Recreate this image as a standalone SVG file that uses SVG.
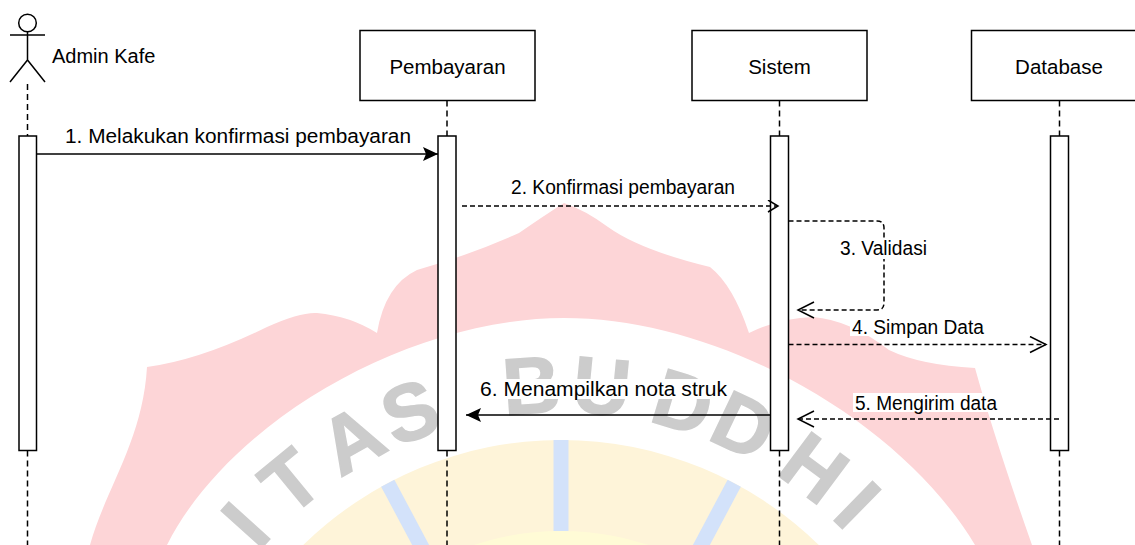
<svg xmlns="http://www.w3.org/2000/svg" width="1135" height="545" viewBox="0 0 1135 545">
<style>
.t{font-family:"Liberation Sans",Arial,Helvetica,sans-serif;font-size:20px;fill:#000}
.h{font-size:20.5px;text-anchor:middle}
.box{fill:#fff;stroke:#000;stroke-width:1.5}
.act{fill:#fff;stroke:#000;stroke-width:1.5}
.life{fill:none;stroke:#000;stroke-width:1.5;stroke-dasharray:6 4}
.solid{fill:none;stroke:#000;stroke-width:1.5}
.dash{fill:none;stroke:#000;stroke-width:1.5;stroke-dasharray:5 3}
.bg{fill:#fff}
.wm{font-family:"Liberation Sans",Arial,sans-serif;font-weight:bold;font-size:80px;fill:#cccccc;stroke:#cccccc;stroke-width:1.5;text-anchor:middle}
</style>
<defs>
<marker id="fill" markerUnits="userSpaceOnUse" markerWidth="16" markerHeight="16" refX="15" refY="7" orient="auto">
<path d="M0,0 L15,7 L0,14 L3,7 Z" fill="#000" stroke="none"/>
</marker>
<marker id="open" markerUnits="userSpaceOnUse" markerWidth="20" markerHeight="20" refX="17" refY="8.5" orient="auto">
<path d="M1,0.5 L17,8.5 L1,16.5" fill="none" stroke="#000" stroke-width="1.5" stroke-dasharray="none"/>
</marker>
<marker id="openS" markerUnits="userSpaceOnUse" markerWidth="14" markerHeight="14" refX="11" refY="6.5" orient="auto">
<path d="M1,0.5 L11,6.5 L1,12.5" fill="none" stroke="#000" stroke-width="1.5" stroke-dasharray="none"/>
</marker>
</defs>
<rect width="1135" height="545" fill="#fff"/>
<g id="watermark">
<path d="M90,545 C105,490 143,440 147,367 Q200,360 267,327 Q300,312 317,313 Q350,316 377,333 Q385,285 417,270 Q470,255 519,233 Q545,215 564,203 Q585,210 608,227 Q640,250 710,267 Q733,285 749,333 Q780,318 813,317 Q850,320 889,350 Q920,365 975,368 Q995,440 1032,545 L975,545 C900,420 720,318 564,318 C410,318 230,420 167,545 Z" fill="#fdd5d7"/>
<circle cx="561" cy="809" r="369" fill="#fef4d9"/>
<circle cx="561" cy="809" r="278" fill="#fffbd6"/>
<g stroke="#d3e2fa" stroke-width="15">
<line x1="561" y1="531" x2="561" y2="440"/>
<line x1="561" y1="531" x2="561" y2="440" transform="rotate(28 561 809)"/>
<line x1="561" y1="531" x2="561" y2="440" transform="rotate(-28 561 809)"/>
</g>
<text class="wm" x="561" y="412" transform="rotate(-48 561 809)">I</text>
<text class="wm" x="561" y="412" transform="rotate(-39.5 561 809)">T</text>
<text class="wm" x="561" y="412" transform="rotate(-29.5 561 809)">A</text>
<text class="wm" x="561" y="412" transform="rotate(-20.8 561 809)">S</text>
<text class="wm" x="561" y="412" transform="rotate(-4 561 809)">B</text>
<text class="wm" x="561" y="412" transform="rotate(5.5 561 809)">U</text>
<text class="wm" x="561" y="412" transform="rotate(16.7 561 809)">D</text>
<text class="wm" x="561" y="412" transform="rotate(25.5 561 809)">D</text>
<text class="wm" x="561" y="412" transform="rotate(36.6 561 809)">H</text>
<text class="wm" x="561" y="412" transform="rotate(44.3 561 809)">I</text>
</g>
<g id="admin">
<circle cx="27.5" cy="23" r="8.8" fill="#fff" stroke="#000" stroke-width="1.5"/>
<path class="solid" d="M27.5,31.8 V60 M10,35 H45 M10,82 L27.5,60 L45,82"/>
<text class="t" x="52" y="63">Admin Kafe</text>
<path class="life" d="M27.5,84 V136 M27.5,450.5 V545"/>
<rect class="act" x="19" y="136" width="17.5" height="314.5"/>
</g>
<g id="pembayaran">
<rect class="box" x="360" y="30.5" width="175" height="70"/>
<text class="t h" x="447.5" y="73.5">Pembayaran</text>
<path class="life" d="M447,100.5 V136 M447,450.5 V545"/>
<rect class="act" x="438" y="136" width="18" height="314.5"/>
</g>
<g id="sistem">
<rect class="box" x="692" y="30.5" width="175" height="70"/>
<text class="t h" x="779.5" y="73.5">Sistem</text>
<path class="life" d="M779.5,100.5 V136 M779.5,450.5 V545"/>
<rect class="act" x="770.5" y="136" width="18" height="314.5"/>
</g>
<g id="database">
<rect class="box" x="971.5" y="30.5" width="175" height="70"/>
<text class="t h" x="1059" y="73.5">Database</text>
<path class="life" d="M1059.5,100.5 V136 M1059.5,450.5 V545"/>
<rect class="act" x="1050.5" y="136" width="18" height="314.5"/>
</g>
<g id="connectors">
<path class="solid" d="M36.5,154 H438" marker-end="url(#fill)"/>
<rect class="bg" x="63" y="126" width="350" height="20"/>
<text class="t" x="65" y="142.5" textLength="346" lengthAdjust="spacingAndGlyphs">1. Melakukan konfirmasi pembayaran</text>
<path class="dash" d="M462,206 H778" marker-end="url(#openS)"/>
<rect class="bg" x="509" y="178" width="228" height="20"/>
<text class="t" x="511" y="194" textLength="224" lengthAdjust="spacingAndGlyphs">2. Konfirmasi pembayaran</text>
<path class="dash" d="M788.5,221 H877 Q884,221 884,228 V303 Q884,310 877,310 H798" marker-end="url(#open)"/>
<rect class="bg" x="838" y="239" width="91" height="20"/>
<text class="t" x="840" y="255" textLength="87" lengthAdjust="spacingAndGlyphs">3. Validasi</text>
<path class="dash" d="M788.5,344.5 H1046" marker-end="url(#open)"/>
<rect class="bg" x="850" y="317" width="136" height="19"/>
<text class="t" x="852" y="333.5" textLength="132" lengthAdjust="spacingAndGlyphs">4. Simpan Data</text>
<path class="dash" d="M1059,419 H798" marker-end="url(#open)"/>
<rect class="bg" x="853" y="393" width="146" height="19"/>
<text class="t" x="855" y="409.5" textLength="142" lengthAdjust="spacingAndGlyphs">5. Mengirim data</text>
<path class="solid" d="M770.5,415 H466" marker-end="url(#fill)"/>
<rect class="bg" x="478" y="379" width="251" height="20"/>
<text class="t" x="480" y="396" textLength="247" lengthAdjust="spacingAndGlyphs">6. Menampilkan nota struk</text>
</g>
</svg>
